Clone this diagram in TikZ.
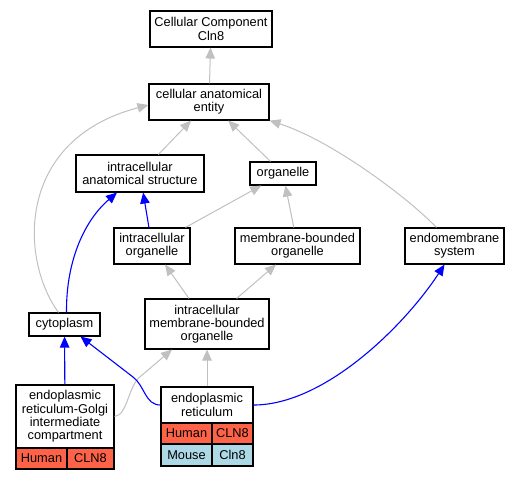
\documentclass[tikz,border=0pt]{standalone}
\usepackage{fontspec}
\setmainfont{Liberation Sans}
\usetikzlibrary{arrows.meta}

\definecolor{isagray}{HTML}{C0C0C0}
\definecolor{partblue}{HTML}{0000FF}
\definecolor{humanred}{HTML}{FF6347}
\definecolor{mouseblue}{HTML}{ADD8E6}

\begin{document}
\begin{tikzpicture}[x=1pt,y=-1pt,
    every node/.style={font=\fontsize{12.8}{13.3}\selectfont},
    term/.style={draw=black, line width=1.1pt, align=center, inner sep=0pt, fill=white},
    cell/.style={draw=black, line width=1.1pt, inner sep=0pt},
    isa/.style={draw=isagray, line width=1pt, -{Triangle[length=11pt,width=9.5pt]}},
    partof/.style={draw=partblue, line width=1.1pt, -{Triangle[length=11pt,width=9.5pt]}}]
    \useasboundingbox (0,0) rectangle (520,480);

    \node (cc)[term, minimum width=122, minimum height=36]    at (211,29)    {Cellular Component\\Cln8};
    \node (cae)[term, minimum width=120, minimum height=36]   at (209,102)   {cellular anatomical\\entity};

    \node (ias)[term, minimum width=128, minimum height=37]   at (140,173.5) {intracellular\\anatomical structure};
    \node (org)[term, minimum width=66, minimum height=23]    at (283,173.5) {organelle};

    \node (io)[term, minimum width=76, minimum height=36]     at (152,246)   {intracellular\\organelle};
    \node (mbo)[term, minimum width=125, minimum height=36]   at (297.5,246) {membrane-bounded\\organelle};
    \node (es)[term, minimum width=99, minimum height=36]     at (454.5,246) {endomembrane\\system};

    \node (cyto)[term, minimum width=71, minimum height=23]   at (64.5,324.5) {cytoplasm};
    \node (imbo)[term, minimum width=124, minimum height=50]  at (207,324)   {intracellular\\membrane-bounded\\organelle};

    % ERGIC with its gene table
    \node (ergic)[term, minimum width=98, minimum height=63]  at (65,416.5)  {endoplasmic\\reticulum-Golgi\\intermediate\\compartment};
    \node (ergicH)[cell, fill=humanred, minimum width=51, minimum height=21] at (41.5,458.5) {Human};
    \node (ergicG)[cell, fill=humanred, minimum width=47, minimum height=21] at (90.5,458.5) {CLN8};

    % ER with its gene table
    \node (er)[term, minimum width=92, minimum height=36]     at (207,405)   {endoplasmic\\reticulum};
    \node (erH)[cell, fill=humanred, minimum width=51, minimum height=21]   at (186.5,433.5) {Human};
    \node (erHG)[cell, fill=humanred, minimum width=41, minimum height=21]  at (232.5,433.5) {CLN8};
    \node (erM)[cell, fill=mouseblue, minimum width=51, minimum height=22]  at (186.5,455)   {Mouse};
    \node (erMG)[cell, fill=mouseblue, minimum width=41, minimum height=22] at (232.5,455)   {Cln8};

    \foreach \from/\to in
      {cae/cc, ias/cae, org/cae,
       io/org, mbo/org,
       imbo/io, imbo/mbo,
       er/imbo}
    \draw[isa] (\from) -- (\to);

    \foreach \from/\to in
      {io/ias, ergic/cyto}
    \draw[partof] (\from) -- (\to);

    % curved edges
    \draw[isa] ([xshift=-6pt]cyto.north) .. controls (20,260) and (15,140) .. ([yshift=-3pt]cae.west);
    \draw[isa] ([xshift=-18pt]es.north) .. controls (405,195) and (330,140) .. (cae.south east);
    \draw[isa] (ergic.east) .. controls (128,415) and (128,385) .. (141,376) -- ([xshift=-35pt]imbo.south);
    \draw[partof] ([xshift=2pt]cyto.north) .. controls (66,260) and (85,220) .. ([xshift=-23pt]ias.south);
    \draw[partof] (er.west) .. controls (145,405) and (145,386) .. (133,377) -- ([xshift=16pt]cyto.south);
    \draw[partof] (er.east) .. controls (325,405) and (405,325) .. ([xshift=-10pt]es.south);
\end{tikzpicture}
\end{document}
